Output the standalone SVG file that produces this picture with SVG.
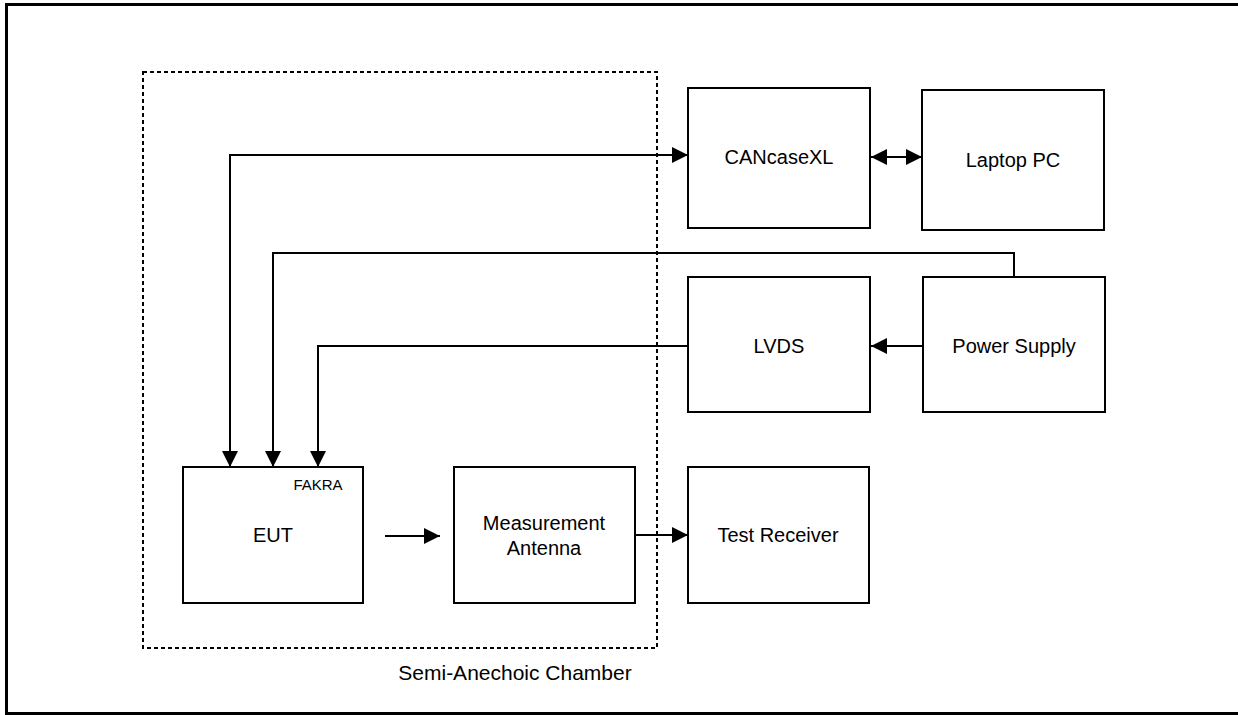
<svg xmlns="http://www.w3.org/2000/svg" width="1238" height="715" viewBox="0 0 1238 715">
<style>
.box{fill:#fff;stroke:#000;stroke-width:2}
.lbl{font-family:"Liberation Sans",Arial,sans-serif;font-size:20px;fill:#000;text-anchor:middle;dominant-baseline:central}
.conn{fill:none;stroke:#000;stroke-width:2}
</style>
<defs>
<marker id="ah" markerUnits="userSpaceOnUse" markerWidth="17" markerHeight="16" refX="16" refY="8" orient="auto-start-reverse">
<path d="M0,0 L16,8 L0,16 z" fill="#000"/>
</marker>
</defs>
<rect width="1238" height="715" fill="#fff"/>
<g id="frame">
<path d="M1238,4.5 H6.5 V713.5 H1238" fill="none" stroke="#000" stroke-width="3"/>
</g>
<g id="chamber">
<rect x="143" y="72" width="514" height="576" fill="none" stroke="#000" stroke-width="2" stroke-dasharray="4 3"/>
<text class="lbl" x="515" y="672" style="font-size:21px">Semi-Anechoic Chamber</text>
</g>
<g id="cancase">
<rect class="box" x="688" y="88" width="182" height="140"/>
<text class="lbl" x="779" y="157">CANcaseXL</text>
</g>
<g id="laptop">
<rect class="box" x="922" y="90" width="182" height="140"/>
<text class="lbl" x="1013" y="160">Laptop PC</text>
</g>
<g id="lvds">
<rect class="box" x="688" y="277" width="182" height="135"/>
<text class="lbl" x="779" y="346">LVDS</text>
</g>
<g id="power">
<rect class="box" x="923" y="277" width="182" height="135"/>
<text class="lbl" x="1014" y="346">Power Supply</text>
</g>
<g id="eut">
<rect class="box" x="183" y="467" width="180" height="136"/>
<text class="lbl" x="273" y="535">EUT</text>
<text x="318" y="490" style="font-family:'Liberation Sans',Arial,sans-serif;font-size:15px;text-anchor:middle">FAKRA</text>
</g>
<g id="antenna">
<rect class="box" x="454" y="467" width="181" height="136"/>
<text class="lbl" x="544" y="523">Measurement</text>
<text class="lbl" x="544" y="548">Antenna</text>
</g>
<g id="receiver">
<rect class="box" x="688" y="467" width="181" height="136"/>
<text class="lbl" x="778" y="535">Test Receiver</text>
</g>
<g id="connectors">
<path class="conn" d="M230,467 V155 H688" marker-start="url(#ah)" marker-end="url(#ah)"/>
<path class="conn" d="M871,157 H922" marker-start="url(#ah)" marker-end="url(#ah)"/>
<path class="conn" d="M1014,277 V253 H273 V467" marker-end="url(#ah)"/>
<path class="conn" d="M688,346 H318 V467" marker-end="url(#ah)"/>
<path class="conn" d="M923,346 H871" marker-end="url(#ah)"/>
<path class="conn" d="M385,536 H440" marker-end="url(#ah)"/>
<path class="conn" d="M635,535 H688" marker-end="url(#ah)"/>
</g>
</svg>
